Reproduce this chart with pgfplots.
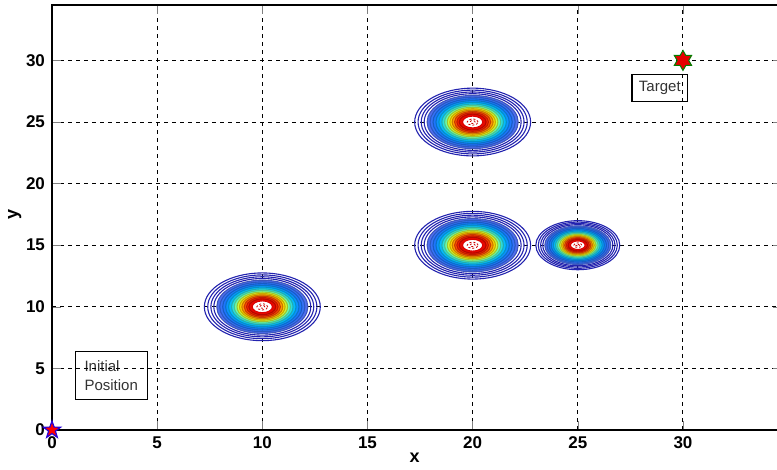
\documentclass[border=0pt]{standalone}
\usepackage{fontspec}
\setmainfont{Liberation Sans}
\usepackage{pgfplots}
\usepackage{pgfplotstable}
\pgfplotsset{compat=1.18}

% six-pointed star
\pgfdeclareplotmark{hexstar}{%
 \pgfpathmoveto{\pgfpointpolar{90}{\pgfplotmarksize}}%
 \pgfpathlineto{\pgfpointpolar{120}{0.577\pgfplotmarksize}}%
 \pgfpathlineto{\pgfpointpolar{150}{\pgfplotmarksize}}%
 \pgfpathlineto{\pgfpointpolar{180}{0.577\pgfplotmarksize}}%
 \pgfpathlineto{\pgfpointpolar{210}{\pgfplotmarksize}}%
 \pgfpathlineto{\pgfpointpolar{240}{0.577\pgfplotmarksize}}%
 \pgfpathlineto{\pgfpointpolar{270}{\pgfplotmarksize}}%
 \pgfpathlineto{\pgfpointpolar{300}{0.577\pgfplotmarksize}}%
 \pgfpathlineto{\pgfpointpolar{330}{\pgfplotmarksize}}%
 \pgfpathlineto{\pgfpointpolar{0}{0.577\pgfplotmarksize}}%
 \pgfpathlineto{\pgfpointpolar{30}{\pgfplotmarksize}}%
 \pgfpathlineto{\pgfpointpolar{60}{0.577\pgfplotmarksize}}%
 \pgfpathclose\pgfusepathqfillstroke}
% five-pointed star
\pgfdeclareplotmark{pentstar}{%
 \pgfpathmoveto{\pgfpointpolar{90}{\pgfplotmarksize}}%
 \pgfpathlineto{\pgfpointpolar{126}{0.4\pgfplotmarksize}}%
 \pgfpathlineto{\pgfpointpolar{162}{\pgfplotmarksize}}%
 \pgfpathlineto{\pgfpointpolar{198}{0.4\pgfplotmarksize}}%
 \pgfpathlineto{\pgfpointpolar{234}{\pgfplotmarksize}}%
 \pgfpathlineto{\pgfpointpolar{270}{0.4\pgfplotmarksize}}%
 \pgfpathlineto{\pgfpointpolar{306}{\pgfplotmarksize}}%
 \pgfpathlineto{\pgfpointpolar{342}{0.4\pgfplotmarksize}}%
 \pgfpathlineto{\pgfpointpolar{18}{\pgfplotmarksize}}%
 \pgfpathlineto{\pgfpointpolar{54}{0.4\pgfplotmarksize}}%
 \pgfpathclose\pgfusepathqfillstroke}

\definecolor{ringline}{RGB}{35,35,175}

% contour ring profile (radius in data units, level 0..1)
\pgfplotstableread{
r    c
2.75 0
2.59 0
2.44 0
2.30 0
}\outerrings
\pgfplotstableread{
r    c
2.16 0.00
2.02 0.06
1.88 0.12
1.74 0.19
1.60 0.26
1.46 0.34
1.33 0.42
1.20 0.52
1.08 0.62
0.97 0.72
0.86 0.82
0.75 0.90
0.64 0.97
}\filledrings
\pgfplotstableread{
r    c
0.48 1
}\centerring
\pgfplotstableread{
r    c
0.26 1
0.12 1
}\speckring

\pgfplotsset{
 rings/.style={point meta=\thisrow{c},
   visualization depends on={#1*\thisrow{r} \as \rad},
   scatter/@pre marker code/.append style={/tikz/mark size=\rad},
   mark options={xscale=1.711, line width=0.55pt}},
 outerstyle/.style={scatter, only marks, mark=o, scatter/use mapped color={draw=ringline, fill=none}, rings=#1},
 fillstyle/.style={scatter, only marks, mark=*, scatter/use mapped color={draw=mapped color!78!black, fill=mapped color}, rings=#1},
 centerstyle/.style={scatter, only marks, mark=*, scatter/use mapped color={draw=red!85!black, fill=white}, rings=#1},
 speckstyle/.style={scatter, only marks, mark=o, scatter/use mapped color={draw=red!80!black, fill=none}, rings=#1, mark options={xscale=1.711, line width=0.4pt, dash pattern=on 1pt off 1pt}},
}

\begin{document}
\begin{tikzpicture}
\begin{axis}[
 scale only axis, width=364.9pt, height=212.5pt,
 xmin=0, xmax=34.7, ymin=0, ymax=34.5,
 xtick={0,5,...,30}, ytick={0,5,...,30},
 grid=major,
 major grid style={black, line width=0.5pt, dash pattern=on 2pt off 2pt},
 axis on top,
 tick align=inside,
 axis line style={line width=0.6pt},
 /pgf/number format/assume math mode=true,
 ticklabel style={font=\fontsize{8.5}{9}\selectfont\bfseries},
 xlabel={\textbf{x}}, ylabel={\textbf{y}},
 every axis x label/.style={at={(axis description cs:0.497,-0.066)}, anchor=center, font=\fontsize{9}{10}\selectfont},
 every axis y label/.style={at={(axis description cs:-0.051,0.506)}, anchor=center, rotate=90, font=\fontsize{9}{10}\selectfont},
 colormap={blob}{rgb255=(80,110,240) rgb255=(20,120,255) rgb255=(0,200,255) rgb255=(110,255,170) rgb255=(255,250,0) rgb255=(255,160,0) rgb255=(255,50,0) rgb255=(225,0,0)},
 point meta min=0, point meta max=1,
]
\coordinate (SW) at (rel axis cs:0,0);

% obstacle at (10,10)
\addplot[outerstyle=6.159] table[x expr=10, y expr=10] \outerrings;
\addplot[fillstyle=6.159] table[x expr=10, y expr=10] \filledrings;
\addplot[centerstyle=6.159] table[x expr=10, y expr=10] \centerring;
\addplot[speckstyle=6.159] table[x expr=10, y expr=10] \speckring;
% obstacle at (20,15)
\addplot[outerstyle=6.159] table[x expr=20, y expr=15] \outerrings;
\addplot[fillstyle=6.159] table[x expr=20, y expr=15] \filledrings;
\addplot[centerstyle=6.159] table[x expr=20, y expr=15] \centerring;
\addplot[speckstyle=6.159] table[x expr=20, y expr=15] \speckring;
% obstacle at (20,25)
\addplot[outerstyle=6.159] table[x expr=20, y expr=25] \outerrings;
\addplot[fillstyle=6.159] table[x expr=20, y expr=25] \filledrings;
\addplot[centerstyle=6.159] table[x expr=20, y expr=25] \centerring;
\addplot[speckstyle=6.159] table[x expr=20, y expr=25] \speckring;
% smaller obstacle at (25,15)
\addplot[outerstyle=4.46] table[x expr=25, y expr=15] \outerrings;
\addplot[fillstyle=4.46] table[x expr=25, y expr=15] \filledrings;
\addplot[centerstyle=4.46] table[x expr=25, y expr=15] \centerring;
\addplot[speckstyle=4.46] table[x expr=25, y expr=15] \speckring;

% start and target
\addplot[only marks, mark=pentstar, mark size=4.5pt, mark options={fill=red, draw=blue!70!violet, line width=0.6pt}] coordinates {(0,0)};
\addplot[only marks, mark=hexstar, mark size=5pt, mark options={fill=red!90!black, draw=green!50!black, line width=0.5pt}] coordinates {(30,30)};

\node[draw, line width=0.6pt, align=left, font=\fontsize{7.5}{9.5}\selectfont, text=black!80, inner xsep=4.5pt, inner ysep=3pt, minimum height=24pt, text width=27pt] at (axis cs:2.83,4.4) {Initial\\Position};
\node[draw, line width=0.6pt, font=\fontsize{7.5}{9}\selectfont, text=black!80, inner xsep=3.5pt, minimum height=13pt] at (axis cs:28.9,27.75) {Target};
\end{axis}
\pgfresetboundingbox
\path[use as bounding box] ([xshift=-26pt,yshift=-20pt]SW) rectangle ([xshift=362.5pt,yshift=215pt]SW);
\end{tikzpicture}
\end{document}
